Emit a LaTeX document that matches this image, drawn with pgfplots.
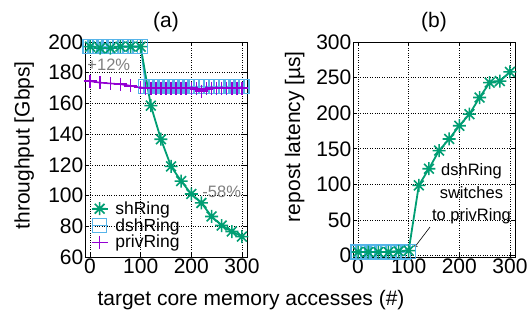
\documentclass[border=0pt]{standalone}
\usepackage{fontspec}
\setmainfont{Liberation Sans}
\usepackage{pgfplots}
\pgfplotsset{compat=1.18}
\definecolor{cgreen}{HTML}{009E73}
\definecolor{cblue}{HTML}{56B4E9}
\definecolor{cpurple}{HTML}{9400D3}
\definecolor{cgray}{HTML}{7F7F7F}
\pgfdeclareplotmark{gpstar}{%
  \pgfpathmoveto{\pgfqpoint{-\pgfplotmarksize}{0pt}}\pgfpathlineto{\pgfqpoint{\pgfplotmarksize}{0pt}}%
  \pgfpathmoveto{\pgfqpoint{0pt}{-\pgfplotmarksize}}\pgfpathlineto{\pgfqpoint{0pt}{\pgfplotmarksize}}%
  \pgfpathmoveto{\pgfqpoint{-0.75\pgfplotmarksize}{-0.75\pgfplotmarksize}}\pgfpathlineto{\pgfqpoint{0.75\pgfplotmarksize}{0.75\pgfplotmarksize}}%
  \pgfpathmoveto{\pgfqpoint{-0.75\pgfplotmarksize}{0.75\pgfplotmarksize}}\pgfpathlineto{\pgfqpoint{0.75\pgfplotmarksize}{-0.75\pgfplotmarksize}}%
  \pgfusepathqstroke}
\pgfplotsset{
  gp/.style={
    scale only axis, width=162pt, height=215pt,
    xmin=-10, xmax=310, xtick={0,100,200,300},
    grid=major, grid style={black, dotted, line width=0.7pt},
    tick align=inside, major tick length=4pt,
    axis line style={black, line width=0.8pt},
    tick style={black, line width=0.7pt},
    /pgf/number format/assume math mode=true,
    ticklabel style={font=\fontsize{21}{21}\selectfont},
    yticklabel style={inner sep=1.5pt},
    xticklabel style={inner sep=2pt},
    title style={font=\fontsize{21}{21}\selectfont, inner sep=4pt},
    every axis y label/.style={rotate=90, anchor=center, font=\fontsize{21}{21}\selectfont},
  },
  shstyle/.style={cgreen, line width=1.8pt, mark=gpstar, mark size=6.5pt, mark options={line width=1.6pt}},
  dshstyle/.style={cblue, line width=1.5pt, mark=square, mark size=7pt, mark options={line width=1.4pt}},
  privstyle/.style={cpurple, line width=1.6pt, mark=+, mark size=6.5pt, mark options={line width=1.5pt}},
}
\begin{document}
\begin{tikzpicture}[x=1pt,y=1pt]
\useasboundingbox (0,0) rectangle (532,321);
\begin{axis}[gp, at={(85pt,64pt)}, anchor=south west,
  ymin=60, ymax=200, ytick={60,80,...,200},
  ylabel={throughput [Gbps]},
  y label style={at={(axis description cs:-0.375,0.52)}},
  title={(a)},
  legend style={at={(axis cs:-5,63)}, anchor=south west, draw=none, fill=none,
    font=\fontsize{17.5}{17.5}\selectfont, row sep=1pt,
    nodes={inner sep=0.8pt},
    /tikz/every odd column/.append style={column sep=6pt}},
  legend cell align=left,
  legend image code/.code={\draw[mark repeat=2,mark phase=2] plot coordinates {(0pt,0pt) (8pt,0pt) (16pt,0pt)};},
]
\addplot[dshstyle, forget plot] coordinates {(0,197)(10,197)(20,197)(30,197)(40,197)(50,197)(60,197)(70,197)(80,197)(90,197)(100,197)
 (110,171)(120,171)(130,171)(140,171)(150,171)(160,171)(170,171)(180,171)(190,171)(200,171)(210,171)(220,171)(230,171)(240,171)(250,171)(260,171)(270,171)(280,171)(290,171)(300,171)};
\addplot[privstyle, forget plot] coordinates {(0,174.5)(20,173.5)(40,173)(60,172.5)(80,171.5)(100,170.5)
 (110,170)(120,170)(130,170)(140,170)(150,170)(160,170)(170,170)(180,170)(190,170)(200,170)(210,169.5)(220,168)(230,169.5)(240,170)(250,170)(260,170)(270,170)(280,170)(290,170)(300,170)};
\addplot[shstyle] coordinates {(0,197)(20,196)(40,196)(60,197)(80,197)(100,197)(120,158.6)(140,136.7)(160,119)(180,109.4)(200,101)(220,95.2)(240,86.4)(260,80.5)(280,76.6)(300,73.3)};
\addlegendentry{shRing}
\addlegendimage{dshstyle}
\addlegendentry{dshRing}
\addlegendimage{privstyle}
\addlegendentry{privRing}
\node[cgray, font=\fontsize{16.5}{16.5}\selectfont] at (axis cs:37,185) {+12\%};
\node[cgray, font=\fontsize{16.5}{16.5}\selectfont] at (axis cs:260,102.5) {-58\%};
\end{axis}
\begin{axis}[gp, at={(353pt,64pt)}, anchor=south west,
  ymin=-2, ymax=300, ytick={0,50,...,300},
  ylabel={repost latency [µs]},
  y label style={at={(axis description cs:-0.36,0.56)}},
  title={(b)},
]
\addplot[dshstyle] coordinates {(0,5)(10,5)(20,5)(30,5)(40,5)(50,5)(60,5)(70,5)(80,5)(90,5)(100,6)};
\addplot[shstyle] coordinates {(0,5)(20,5)(40,5)(60,5)(80,6)(100,7)(120,98.6)(140,122)(160,147.5)(180,163.8)(200,182.4)(220,198.7)(240,222)(260,243)(280,245)(300,258)};
\node[align=center, font=\fontsize{16.5}{22.5}\selectfont, black] at (axis cs:224,86.5) {dshRing\\switches\\to privRing};
\draw[->, black, line width=0.6pt] (axis cs:142,40) -- (axis cs:112,12);
\end{axis}
\node[font=\fontsize{21}{21}\selectfont] at (251,21) {target core memory accesses (\#)};
\end{tikzpicture}
\end{document}
